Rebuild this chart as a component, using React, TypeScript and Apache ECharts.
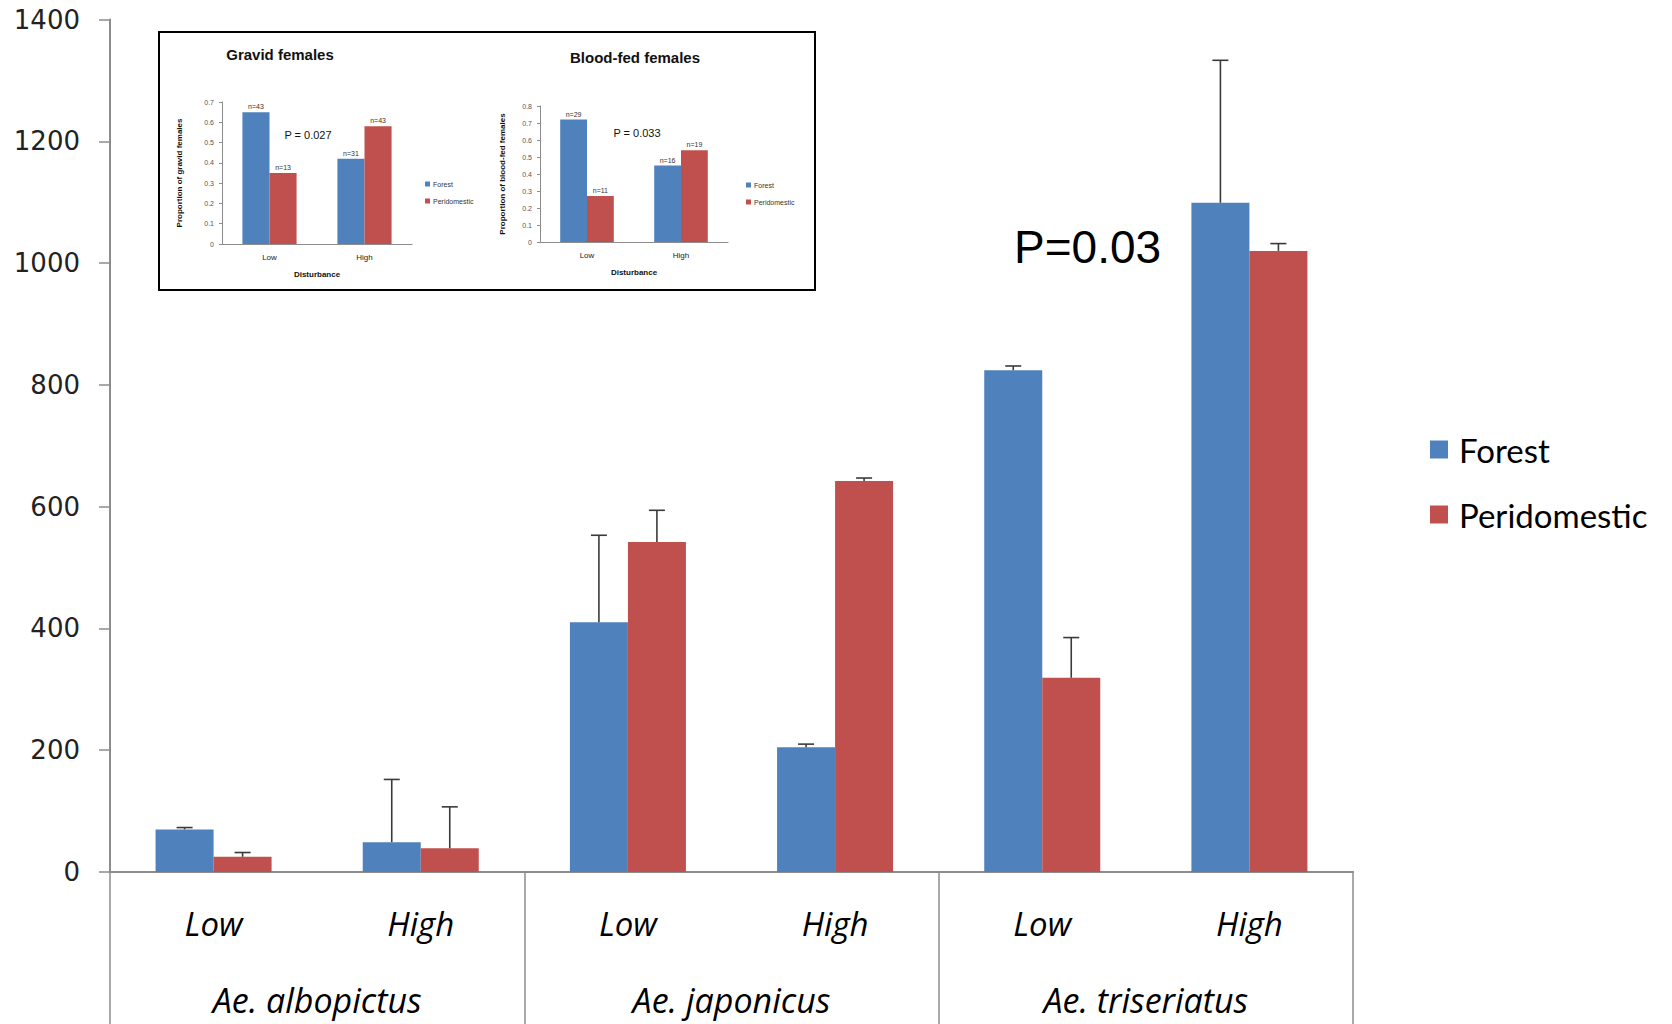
import React, { useEffect, useRef } from "react";
import * as echarts from "echarts";

// ---- Main chart data ----
const categories = ["Low", "High", "Low", "High", "Low", "High"];
const species = ["Ae. albopictus", "Ae. japonicus", "Ae. triseriatus"];
const forestMean = [70, 49, 410, 205, 824, 1099];
const forestErr = [3, 103, 143, 5, 7, 234];
const periMean = [25, 39, 542, 642, 319, 1020];
const periErr = [7, 68, 52, 5, 66, 12];
const seriesNames = ["Forest", "Peridomestic"];
const pText = "P=0.03";

// ---- Inset data ----
const disturbance = ["Low", "High"];
const gravidForest = [0.65, 0.42];
const gravidPeri = [0.35, 0.58];
const gravidForestN = [43, 31];
const gravidPeriN = [13, 43];
const bloodForest = [0.72, 0.45];
const bloodPeri = [0.27, 0.54];
const bloodForestN = [29, 16];
const bloodPeriN = [11, 19];

const BLUE = "#4F81BD";
const RED = "#C0504D";
const AXIS = "#8c8c8c";
const CAT_GAP = 0.44;

function errSeries(name: string, means: number[], errs: number[], sign: number) {
  return {
    type: "custom",
    name,
    xAxisIndex: 0,
    yAxisIndex: 0,
    z: 5,
    encode: { x: 0, y: 1 },
    data: means.map((m, i) => [i, m, errs[i]]),
    renderItem: (params: any, api: any) => {
      const xi = api.value(0);
      const mean = api.value(1);
      const err = api.value(2);
      const base = api.coord([xi, mean]);
      const top = api.coord([xi, mean + err]);
      const band = api.size([1, 0])[0];
      const barW = (band * (1 - CAT_GAP)) / 2;
      const cx = base[0] + (sign * barW) / 2;
      const style = { stroke: "#3a3a3a", lineWidth: 1.6 };
      return {
        type: "group",
        children: [
          { type: "line", shape: { x1: cx, y1: base[1], x2: cx, y2: top[1] }, style },
          { type: "line", shape: { x1: cx - 8, y1: top[1], x2: cx + 8, y2: top[1] }, style },
        ],
      };
    },
  };
}

function insetBar(name: string, color: string, vals: number[], ns: number[], gridIdx: number) {
  return {
    type: "bar",
    name,
    xAxisIndex: gridIdx + 1,
    yAxisIndex: gridIdx,
    data: vals,
    barGap: "0%",
    barCategoryGap: "43%",
    itemStyle: { color },
    label: {
      show: true,
      position: "top",
      distance: 2,
      fontSize: 7,
      fontFamily: "Liberation Sans",
      color: "#333",
      formatter: (p: any) => "n=" + ns[p.dataIndex],
    },
  };
}

function insetYAxis(gridIndex: number, max: number, name: string, nameGap: number) {
  return {
    type: "value",
    gridIndex,
    min: 0,
    max,
    interval: 0.1,
    name,
    nameLocation: "middle",
    nameRotate: 90,
    nameGap,
    nameTextStyle: { fontSize: 8, fontWeight: "bold", fontFamily: "Liberation Sans", color: "#111" },
    axisLine: { show: true, lineStyle: { color: AXIS, width: 1 } },
    axisTick: { show: true, length: 3, lineStyle: { color: AXIS } },
    axisLabel: { fontSize: 7, color: "#555", margin: 8, fontFamily: "Liberation Sans" },
    splitLine: { show: false },
  };
}

function insetXAxis(gridIndex: number) {
  return {
    type: "category",
    gridIndex,
    data: disturbance,
    name: "Disturbance",
    nameLocation: "middle",
    nameGap: 26,
    nameTextStyle: { fontSize: 8, fontWeight: "bold", fontFamily: "Liberation Sans", color: "#111" },
    axisLine: { show: true, lineStyle: { color: AXIS, width: 1 } },
    axisTick: { show: false },
    axisLabel: { fontSize: 8, color: "#222", margin: 9, fontFamily: "Liberation Sans" },
  };
}

function insetLegend(left: number, top: number) {
  return {
    left,
    top,
    orient: "vertical",
    itemWidth: 5,
    itemHeight: 5,
    itemGap: 7,
    icon: "rect",
    data: seriesNames,
    selectedMode: false,
    textStyle: { fontSize: 7, color: "#333", fontFamily: "Liberation Sans", lineHeight: 10, padding: [0, 0, 0, -2] },
  };
}

export default function App() {
  const ref = useRef<HTMLDivElement>(null);
  useEffect(() => {
    if (!ref.current) return;
    const chart = echarts.init(ref.current, null, { renderer: "svg" });
    const option: any = {
      animation: false,
      backgroundColor: "#ffffff",
      grid: [
        { left: 110, right: 319, top: 19.5, bottom: 152 },
        { left: 222, width: 190, top: 102, height: 142 },
        { left: 540, width: 188, top: 106, height: 136 },
      ],
      legend: [
        {
          left: 1425,
          top: 428,
          orient: "vertical",
          itemWidth: 18,
          itemHeight: 18,
          itemGap: 32,
          icon: "rect",
          data: seriesNames,
          selectedMode: false,
          textStyle: { fontSize: 33, fontFamily: "Lato", color: "#000", lineHeight: 32, padding: [0, 0, 0, 6] },
        },
        insetLegend(420, 174),
        insetLegend(741, 175),
      ],
      xAxis: [
        {
          type: "category",
          gridIndex: 0,
          data: categories,
          axisLine: { show: true, lineStyle: { color: AXIS, width: 2 } },
          axisTick: { show: false },
          axisLabel: {
            interval: 0,
            margin: 35,
            fontSize: 33,
            fontStyle: "italic",
            fontFamily: "Open Sans",
            color: "#000",
          },
        },
        {
          type: "category",
          gridIndex: 0,
          position: "bottom",
          data: species,
          axisLine: { show: true, lineStyle: { color: AXIS, width: 2 } },
          axisTick: { show: true, length: 160, interval: 0, lineStyle: { color: AXIS, width: 1.5 } },
          axisLabel: {
            interval: 0,
            margin: 111,
            fontSize: 34,
            fontStyle: "italic",
            fontFamily: "Open Sans",
            color: "#000",
          },
        },
        insetXAxis(1),
        insetXAxis(2),
      ],
      yAxis: [
        {
          type: "value",
          gridIndex: 0,
          min: 0,
          max: 1400,
          interval: 200,
          axisLine: { show: true, lineStyle: { color: AXIS, width: 2 } },
          axisTick: { show: true, length: 11, lineStyle: { color: AXIS, width: 1.5 } },
          axisLabel: {
            fontSize: 26,
            fontFamily: "DejaVu Sans",
            color: "#222",
            margin: 30,
            formatter: (v: number) => String(v),
          },
          splitLine: { show: false },
        },
        insetYAxis(1, 0.7, "Proportion of gravid females", 39),
        insetYAxis(2, 0.8, "Proportion of blood-fed females", 34),
      ],
      series: [
        {
          type: "bar",
          name: "Forest",
          xAxisIndex: 0,
          yAxisIndex: 0,
          data: forestMean,
          barGap: "0%",
          barCategoryGap: CAT_GAP * 100 + "%",
          itemStyle: { color: BLUE },
        },
        {
          type: "bar",
          name: "Peridomestic",
          xAxisIndex: 0,
          yAxisIndex: 0,
          data: periMean,
          barGap: "0%",
          barCategoryGap: CAT_GAP * 100 + "%",
          itemStyle: { color: RED },
        },
        errSeries("Forest error", forestMean, forestErr, -1),
        errSeries("Peridomestic error", periMean, periErr, 1),
        insetBar("Forest", BLUE, gravidForest, gravidForestN, 1),
        insetBar("Peridomestic", RED, gravidPeri, gravidPeriN, 1),
        insetBar("Forest", BLUE, bloodForest, bloodForestN, 2),
        insetBar("Peridomestic", RED, bloodPeri, bloodPeriN, 2),
      ],
      graphic: [
        {
          type: "rect",
          shape: { x: 159, y: 32, width: 656, height: 258 },
          style: { fill: "none", stroke: "#000", lineWidth: 2 },
          z: 10,
        },
        {
          type: "text",
          x: 280,
          y: 54,
          style: {
            text: "Gravid females",
            fontSize: 15,
            fontWeight: "bold",
            fontFamily: "Liberation Sans",
            fill: "#111",
            textAlign: "center",
            textVerticalAlign: "middle",
          },
        },
        {
          type: "text",
          x: 635,
          y: 57,
          style: {
            text: "Blood-fed females",
            fontSize: 15,
            fontWeight: "bold",
            fontFamily: "Liberation Sans",
            fill: "#111",
            textAlign: "center",
            textVerticalAlign: "middle",
          },
        },
        {
          type: "text",
          x: 308,
          y: 135,
          style: {
            text: "P = 0.027",
            fontSize: 11,
            fontFamily: "Liberation Sans",
            fill: "#111",
            textAlign: "center",
            textVerticalAlign: "middle",
          },
        },
        {
          type: "text",
          x: 637,
          y: 133,
          style: {
            text: "P = 0.033",
            fontSize: 11,
            fontFamily: "Liberation Sans",
            fill: "#111",
            textAlign: "center",
            textVerticalAlign: "middle",
          },
        },
        {
          type: "text",
          x: 1014,
          y: 247,
          style: {
            text: pText,
            fontSize: 46,
            fontFamily: "Liberation Sans",
            fill: "#000",
            textAlign: "left",
            textVerticalAlign: "middle",
          },
        },
      ],
    };
    chart.setOption(option);
    return () => chart.dispose();
  }, []);
  return (
    <div
      ref={ref}
      style={{ position: "fixed", left: 0, top: 0, width: 1672, height: 1024 }}
    />
  );
}
